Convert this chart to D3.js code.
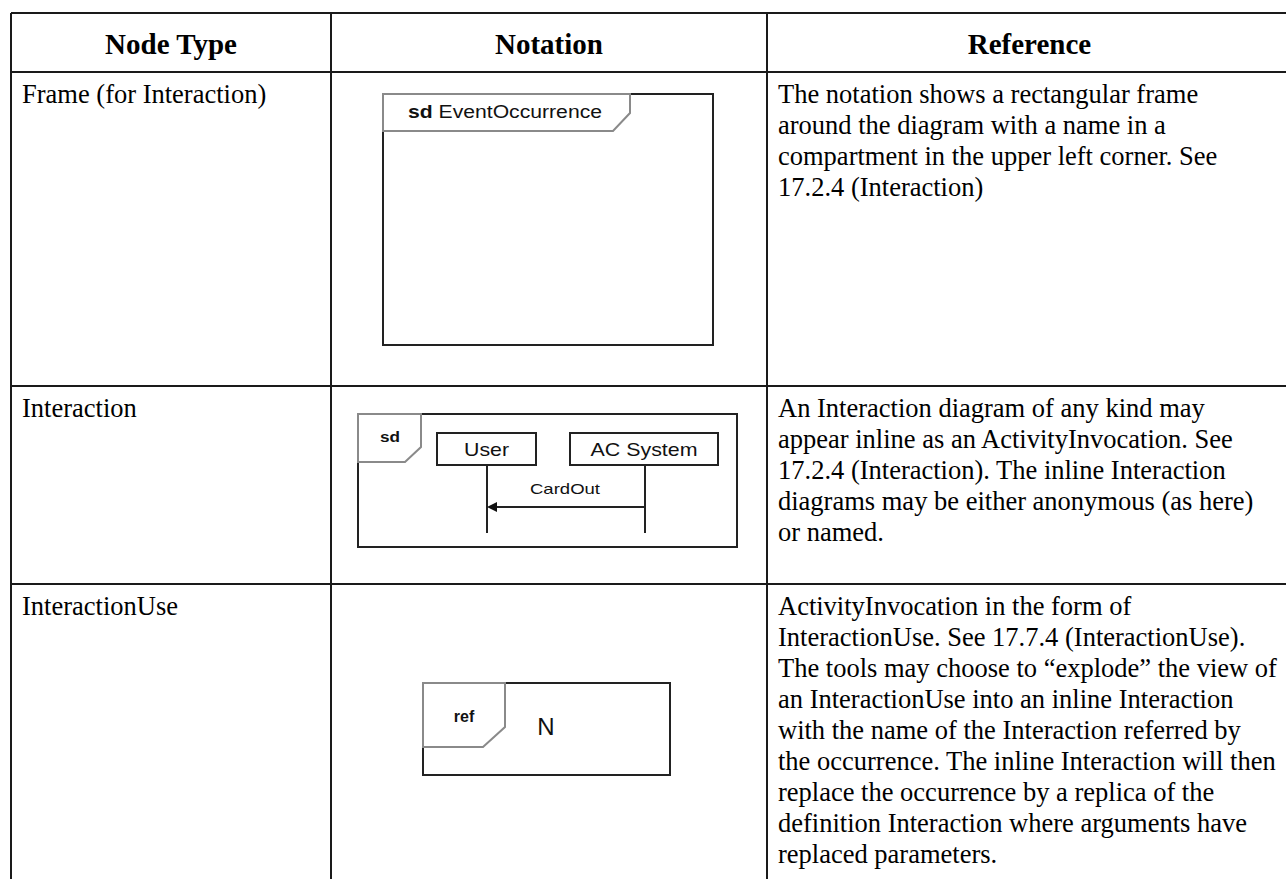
<!DOCTYPE html>
<html><head><meta charset="utf-8">
<script src="https://cdn.jsdelivr.net/npm/d3@7"></script>
<style>html,body{margin:0;padding:0;background:#fff;}svg{display:block;}</style>
</head><body>
<script>
// ---- data ----
const headers = ["Node Type", "Notation", "Reference"];
const nodeTypes = ["Frame (for Interaction)", "Interaction", "InteractionUse"];
const referenceRow1 = ["The notation shows a rectangular frame",
  "around the diagram with a name in a",
  "compartment in the upper left corner. See",
  "17.2.4 (Interaction)"];
const referenceRow2 = ["An Interaction diagram of any kind may",
  "appear inline as an ActivityInvocation. See",
  "17.2.4 (Interaction). The inline Interaction",
  "diagrams may be either anonymous (as here)",
  "or named."];
const referenceRow3 = ["ActivityInvocation in the form of",
  "InteractionUse. See 17.7.4 (InteractionUse).",
  "The tools may choose to \u201Cexplode\u201D the view of",
  "an InteractionUse into an inline Interaction",
  "with the name of the Interaction referred by",
  "the occurrence. The inline Interaction will then",
  "replace the occurrence by a replica of the",
  "definition Interaction where arguments have",
  "replaced parameters."];
const frameLabel = ["sd", "EventOccurrence"];
const lifelines = ["User", "AC System"];
const messageLabel = "CardOut";
const refLabel = ["ref", "N"];

// ---- layout ----
const W = 1286, H = 879;
const svg = d3.select("body").append("svg").attr("width", W).attr("height", H);
const colEdges = [11, 331, 767, 1292];
const rowEdges = [13, 72, 386, 584, 905];
const col = d3.scaleOrdinal().domain(headers).range(colEdges.slice(0, 3));
const colRight = d3.scaleOrdinal().domain(headers).range(colEdges.slice(1));
const row = d3.scaleOrdinal().domain(["header", 0, 1, 2]).range(rowEdges.slice(0, 4));
const lineY = d3.scaleLinear().domain([0, 1]).range([0, 31]);

const serif = "'Liberation Serif','Times New Roman',Times,serif";
const sans = "'Liberation Sans',Arial,Helvetica,sans-serif";
const ink = "#1a1a1a";

// grid lines
const g = svg.append("g").attr("stroke", ink).attr("stroke-width", 2).attr("shape-rendering", "crispEdges");
rowEdges.slice(0, 4).forEach(y => g.append("line").attr("x1", colEdges[0]).attr("x2", colEdges[3]).attr("y1", y).attr("y2", y));
colEdges.forEach(x => g.append("line").attr("x1", x).attr("x2", x).attr("y1", rowEdges[0]).attr("y2", rowEdges[4]));

// headers
svg.selectAll("text.h").data(headers).join("text").attr("class", "h")
  .attr("x", d => (col(d) + colRight(d)) / 2).attr("y", 54)
  .attr("text-anchor", "middle").attr("font-family", serif).attr("font-weight", "bold")
  .attr("font-size", 29).attr("fill", "#000").text(d => d);

// node types
svg.selectAll("text.nt").data(nodeTypes).join("text").attr("class", "nt")
  .attr("x", col("Node Type") + 11).attr("y", (d, i) => row(i) + 31)
  .attr("font-family", serif).attr("font-size", 26.5).attr("fill", "#000").text(d => d);

// reference paragraphs
[referenceRow1, referenceRow2, referenceRow3].forEach((lines, r) => {
  svg.append("g").selectAll("text").data(lines).join("text")
    .attr("x", col("Reference") + 11).attr("y", (d, i) => row(r) + 31 + lineY(i))
    .attr("font-family", serif).attr("font-size", 26.5).attr("fill", "#000").text(d => d);
});

// ---- notation diagrams ----
const grayPent = "#8a8a8a";
function pentagon(x0, y0, x1, yk, xk, y1) {
  return `M${x0},${y0}L${x1},${y0}L${x1},${yk}L${xk},${y1}L${x0},${y1}Z`;
}
// 1: frame
const d1 = svg.append("g");
d1.append("rect").attr("x", 383).attr("y", 94).attr("width", 330).attr("height", 251)
  .attr("fill", "none").attr("stroke", "#222").attr("stroke-width", 2);
d1.append("path").attr("d", pentagon(383, 94, 630, 113, 613, 131))
  .attr("fill", "#fff").attr("stroke", grayPent).attr("stroke-width", 2);
const t1 = d1.append("text").attr("x", 408).attr("y", 118).attr("font-family", sans).attr("font-size", 18)
  .attr("fill", "#111").attr("textLength", 194).attr("lengthAdjust", "spacingAndGlyphs");
t1.append("tspan").attr("font-weight", "bold").text(frameLabel[0] + " ");
t1.append("tspan").text(frameLabel[1]);

// 2: interaction
const d2 = svg.append("g");
d2.append("rect").attr("x", 358).attr("y", 414).attr("width", 379).attr("height", 133)
  .attr("fill", "none").attr("stroke", "#222").attr("stroke-width", 2);
d2.append("path").attr("d", pentagon(358, 414, 421, 447, 405, 462))
  .attr("fill", "#fff").attr("stroke", grayPent).attr("stroke-width", 2);
d2.append("text").attr("x", 380).attr("y", 442).attr("font-family", sans).attr("font-weight", "bold")
  .attr("font-size", 14).attr("fill", "#111").attr("textLength", 20).attr("lengthAdjust", "spacingAndGlyphs").text(frameLabel[0]);
const llX = d3.scaleOrdinal().domain(lifelines).range([487, 645]);
const boxes = [[437, 536], [570, 718]];
const nameW = [45, 107];
lifelines.forEach((name, i) => {
  d2.append("rect").attr("x", boxes[i][0]).attr("y", 433).attr("width", boxes[i][1] - boxes[i][0]).attr("height", 32)
    .attr("fill", "#fff").attr("stroke", "#222").attr("stroke-width", 2);
  d2.append("text").attr("x", (boxes[i][0] + boxes[i][1]) / 2 - nameW[i] / 2).attr("y", 456)
    .attr("font-family", sans).attr("font-size", 19).attr("fill", "#111")
    .attr("textLength", nameW[i]).attr("lengthAdjust", "spacingAndGlyphs").text(name);
  d2.append("line").attr("x1", llX(name)).attr("x2", llX(name)).attr("y1", 465).attr("y2", 533)
    .attr("stroke", "#222").attr("stroke-width", 2);
});
d2.append("line").attr("x1", llX("AC System")).attr("x2", llX("User") + 8).attr("y1", 507).attr("y2", 507)
  .attr("stroke", "#222").attr("stroke-width", 2);
d2.append("path").attr("d", `M${llX("User")},507L${llX("User") + 10},502L${llX("User") + 10},512Z`).attr("fill", "#111");
d2.append("text").attr("x", 530).attr("y", 494).attr("font-family", sans)
  .attr("font-size", 15).attr("fill", "#111").attr("textLength", 70).attr("lengthAdjust", "spacingAndGlyphs").text(messageLabel);

// 3: ref
const d3g = svg.append("g");
d3g.append("rect").attr("x", 423).attr("y", 683).attr("width", 247).attr("height", 92)
  .attr("fill", "none").attr("stroke", "#222").attr("stroke-width", 2);
d3g.append("path").attr("d", pentagon(423, 683, 505, 727, 483, 747))
  .attr("fill", "#fff").attr("stroke", grayPent).attr("stroke-width", 2);
d3g.append("text").attr("x", 464).attr("y", 722).attr("text-anchor", "middle").attr("font-family", sans)
  .attr("font-weight", "bold").attr("font-size", 16).attr("fill", "#111").text(refLabel[0]);
d3g.append("text").attr("x", 546).attr("y", 735).attr("text-anchor", "middle").attr("font-family", sans)
  .attr("font-size", 24).attr("fill", "#111").text(refLabel[1]);
</script>
</body></html>
